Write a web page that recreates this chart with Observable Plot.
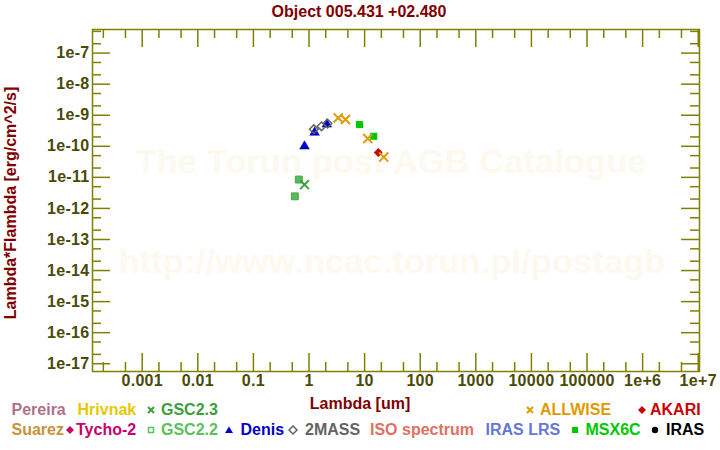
<!DOCTYPE html>
<html>
<head>
<meta charset="utf-8">
<script src="https://cdn.jsdelivr.net/npm/d3@7"></script>
<script src="https://cdn.jsdelivr.net/npm/@observablehq/plot@0.6"></script>
<style>
  html, body { margin: 0; padding: 0; background: #fff; }
  #wrap { position: relative; width: 720px; height: 450px; overflow: hidden;
          font-family: "Liberation Sans", Arial, sans-serif; font-weight: bold; }
  #wrap svg { position: absolute; left: 0; top: 0; }
  .lbl { position: absolute; white-space: nowrap; font-size: 16px; line-height: 18px; }
  .mk { position: absolute; }
</style>
</head>
<body>
<div id="wrap"></div>
<script>
// ---- data ----
const title = "Object 005.431 +02.480";
const xLabel = "Lambda [um]";
const yLabel = "Lambda*Flambda [erg/cm^2/s]";
const watermark1 = "The Torun post AGB Catalogue";
const watermark2 = "http://www.ncac.torun.pl/postagb";

const xTickValues = [0.001, 0.01, 0.1, 1, 10, 100, 1000, 10000, 100000, 1e6, 1e7];
const xTickLabels = ["0.001", "0.01", "0.1", "1", "10", "100", "1000", "10000", "100000", "1e+6", "1e+7"];
const yTickValues = [1e-17, 1e-16, 1e-15, 1e-14, 1e-13, 1e-12, 1e-11, 1e-10, 1e-9, 1e-8, 1e-7];
const yTickLabels = ["1e-17", "1e-16", "1e-15", "1e-14", "1e-13", "1e-12", "1e-11", "1e-10", "1e-9", "1e-8", "1e-7"];

const gsc22Lambda = [0.656, 0.556];
const gsc22Flux   = [8.5e-12, 2.45e-12];
const gsc23Lambda = [0.83];
const gsc23Flux   = [5.8e-12];
const denisLambda = [0.83, 1.26, 2.09];
const denisFlux   = [1.0e-10, 2.77e-10, 5.1e-10];
const tmassLambda = [1.22, 1.68, 2.15];
const tmassFlux   = [3.55e-10, 4.4e-10, 5.4e-10];
const akariLambda = [17.6];
const akariFlux   = [6.3e-11];
const allwiseLambda = [3.35, 4.53, 11.4, 22.1];
const allwiseFlux   = [8.2e-10, 7.3e-10, 1.77e-10, 4.5e-11];
const msxLambda = [8.1, 14.6];
const msxFlux   = [5.0e-10, 2.1e-10];

const legendNames = ["Pereira", "Hrivnak", "GSC2.3", "ALLWISE", "AKARI",
                     "Suarez", "Tycho-2", "GSC2.2", "Denis", "2MASS", "ISO spectrum", "IRAS LRS", "MSX6C", "IRAS"];
const legendColors = ["#b26f8c", "#e6c800", "#3ca03c", "#e09a00", "#cc0000",
                      "#c8923c", "#c8006e", "#5cc05c", "#0000c8", "#646464", "#e07060", "#6478d2", "#00c800", "#000000"];
const legendMarkers = [null, null, "times", "times", "diamondFill",
                       null, "diamondFill", "squareOpen", "triangle", "diamondOpen", null, null, "squareFill", "dot"];

// ---- layout ----
const W = 720, H = 390;
const mL = 92, mR = 21, mT = 29, mB = 19;
const frameW = W - mL - mR, frameH = H - mT - mB;
const majorLen = 18, minorLen = 9;
const axisCol = "#808000", tickTextCol = "#4a4a08", titleCol = "#800000";
const font = "'Liberation Sans', Arial, sans-serif";
// legend positions: [x of marker center or null, x of text, row]
const legendLayout = [
  [null, 11.5, 0], [null, 77.5, 0], [150.7, 161, 0], [530, 540, 0], [641.7, 650, 0],
  [null, 11.5, 1], [70, 76, 1], [150.7, 161, 1], [228.7, 240.5, 1], [293.3, 305, 1],
  [null, 370, 1], [null, 485.5, 1], [575, 585.5, 1], [655, 666, 1]
];
const rowY = [410, 430];

const series = (lam, flux) => lam.map((l, i) => ({lambda: l, flux: flux[i]}));

const xMinor = xTickValues.concat([1e-4]).flatMap(d => [2 * d, 5 * d]).filter(d => d < 1.05e7);
const yMinor = yTickValues.concat([1e-18]).flatMap(d => [2 * d, 5 * d]).filter(d => d > 5.7e-18 && d < 5.7e-7);

const fmtX = d => xTickLabels[xTickValues.indexOf(d)];
const fmtY = d => yTickLabels[yTickValues.findIndex(v => Math.abs(Math.log10(v) - Math.log10(d)) < 1e-6)];

const tickStyle = {stroke: axisCol, strokeWidth: 1.5};

const chart = Plot.plot({
  width: W, height: H,
  marginLeft: mL, marginRight: mR, marginTop: mT, marginBottom: mB,
  style: {fontFamily: font, fontWeight: "bold", fontSize: "16px", letterSpacing: "0.3px", background: "transparent", overflow: "visible"},
  x: {type: "log", domain: [10 ** -3.894, 10 ** 7.023], axis: null},
  y: {type: "log", domain: [10 ** -17.25, 10 ** -6.24], axis: null},
  marks: [
    Plot.text([watermark1], {frameAnchor: "top", lineAnchor: "middle", dy: 133, dx: -5, text: d => d, fontSize: 34, fontWeight: "bold", fill: "#fcf9ee"}),
    Plot.text([watermark2], {frameAnchor: "top", lineAnchor: "middle", dy: 233, dx: -4, text: d => d, fontSize: 34, fontWeight: "bold", fill: "#fcf9ee"}),
    // inward ticks, all four sides
    Plot.tickX(xTickValues, {x: d => d, insetTop: frameH - majorLen, ...tickStyle}),
    Plot.tickX(xMinor, {x: d => d, insetTop: frameH - minorLen, ...tickStyle}),
    Plot.tickX(xTickValues, {x: d => d, insetBottom: frameH - majorLen, ...tickStyle}),
    Plot.tickX(xMinor, {x: d => d, insetBottom: frameH - minorLen, ...tickStyle}),
    Plot.tickY(yTickValues, {y: d => d, insetRight: frameW - majorLen, ...tickStyle}),
    Plot.tickY(yMinor, {y: d => d, insetRight: frameW - minorLen, ...tickStyle}),
    Plot.tickY(yTickValues, {y: d => d, insetLeft: frameW - majorLen, ...tickStyle}),
    Plot.tickY(yMinor, {y: d => d, insetLeft: frameW - minorLen, ...tickStyle}),
    Plot.frame({stroke: axisCol, strokeWidth: 1.5}),
    Plot.axisX({ticks: xTickValues, tickFormat: fmtX, tickSize: 0, tickPadding: 3, fill: tickTextCol, label: null, anchor: "bottom", fontSize: 16, fontWeight: "bold"}),
    Plot.axisY({ticks: yTickValues, tickFormat: fmtY, tickSize: 0, tickPadding: 3, fill: tickTextCol, label: null, anchor: "left", fontSize: 16, fontWeight: "bold"}),
    // data
    Plot.dot(series(gsc22Lambda, gsc22Flux), {x: "lambda", y: "flux", symbol: "square", r: 3.9, fill: "#5cb85c", stroke: "#48a848", strokeWidth: 1}),
    Plot.dot(series(gsc23Lambda, gsc23Flux), {x: "lambda", y: "flux", symbol: "times", r: 4.1, stroke: "#3ca03c", strokeWidth: 2}),
    Plot.dot(series(denisLambda, denisFlux), {x: "lambda", y: "flux", symbol: "triangle", r: 3.6, fill: "#0000c8", stroke: "#0000c8", strokeWidth: 0.5}),
    Plot.dot(series(tmassLambda, tmassFlux), {x: "lambda", y: "flux", symbol: "diamond2", r: 3.9, fill: "none", stroke: "#646464", strokeWidth: 1.5}),
    Plot.dot(series(msxLambda, msxFlux), {x: "lambda", y: "flux", symbol: "square", r: 4, fill: "#00c800"}),
    Plot.dot(series(akariLambda, akariFlux), {x: "lambda", y: "flux", symbol: "diamond2", r: 4, fill: "#cc0000"}),
    Plot.dot(series(allwiseLambda, allwiseFlux), {x: "lambda", y: "flux", symbol: "times", r: 4.2, stroke: "#e09a00", strokeWidth: 2})
  ]
});

const wrap = document.getElementById("wrap");
wrap.appendChild(chart);

function addText(txt, x, y, color, opts = {}) {
  const d = document.createElement("div");
  d.className = "lbl";
  d.textContent = txt;
  d.style.color = color;
  if (opts.size) d.style.fontSize = opts.size + "px";
  d.style.left = x + "px";
  d.style.top = (y - 9) + "px";
  if (opts.center) d.style.transform = "translateX(-50%)";
  wrap.appendChild(d);
  return d;
}

// title + axis labels
addText(title, 359, 12, titleCol, {center: true});
addText(xLabel, 360, 404, titleCol, {center: true});
const yl = document.createElement("div");
yl.className = "lbl";
yl.textContent = yLabel;
yl.style.color = titleCol;
yl.style.left = "11px";
yl.style.top = "203px";
yl.style.transform = "translate(-50%, -50%) rotate(-90deg)";
wrap.appendChild(yl);

// legend
const NS = "http://www.w3.org/2000/svg";
function marker(kind, cx, cy, color) {
  const s = document.createElementNS(NS, "svg");
  s.setAttribute("width", 12); s.setAttribute("height", 12);
  s.setAttribute("class", "mk");
  s.style.left = (cx - 6) + "px"; s.style.top = (cy - 6) + "px";
  let el;
  if (kind === "times") {
    el = document.createElementNS(NS, "path");
    el.setAttribute("d", "M3,3L9,9M9,3L3,9");
    el.setAttribute("stroke", color); el.setAttribute("stroke-width", 2); el.setAttribute("fill", "none");
  } else if (kind === "diamondFill" || kind === "diamondOpen") {
    el = document.createElementNS(NS, "path");
    el.setAttribute("d", "M6,2L10,6L6,10L2,6Z");
    if (kind === "diamondFill") el.setAttribute("fill", color);
    else { el.setAttribute("fill", "none"); el.setAttribute("stroke", color); el.setAttribute("stroke-width", 1.5); }
  } else if (kind === "squareOpen") {
    el = document.createElementNS(NS, "rect");
    el.setAttribute("x", 3.5); el.setAttribute("y", 3.5); el.setAttribute("width", 5); el.setAttribute("height", 5);
    el.setAttribute("fill", "none"); el.setAttribute("stroke", color); el.setAttribute("stroke-width", 1.5);
  } else if (kind === "squareFill") {
    el = document.createElementNS(NS, "rect");
    el.setAttribute("x", 3); el.setAttribute("y", 3); el.setAttribute("width", 6); el.setAttribute("height", 6);
    el.setAttribute("fill", color);
  } else if (kind === "triangle") {
    el = document.createElementNS(NS, "path");
    el.setAttribute("d", "M6,2.5L10,9L2,9Z");
    el.setAttribute("fill", color);
  } else if (kind === "dot") {
    el = document.createElementNS(NS, "circle");
    el.setAttribute("cx", 6); el.setAttribute("cy", 6); el.setAttribute("r", 3.2);
    el.setAttribute("fill", color);
  }
  s.appendChild(el);
  wrap.appendChild(s);
}
legendNames.forEach((name, i) => {
  const [mx, tx, row] = legendLayout[i];
  const y = rowY[row];
  if (legendMarkers[i]) marker(legendMarkers[i], mx, y, legendColors[i]);
  addText(name, tx, y, legendColors[i]);
});
</script>
</body>
</html>
